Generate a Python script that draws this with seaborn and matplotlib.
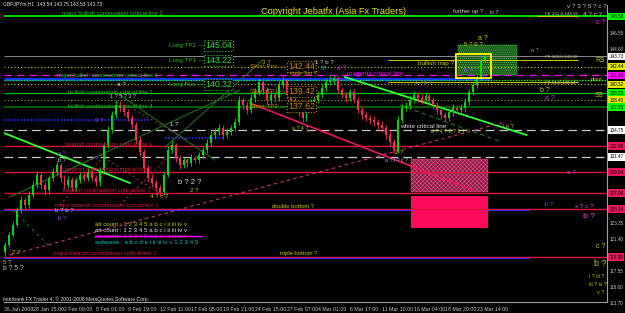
import numpy as np
import pandas as pd
import matplotlib
matplotlib.use("Agg")
import matplotlib.pyplot as plt
import seaborn as sns
from matplotlib.patches import Rectangle

# ---------------- data ----------------
FIRST_OPEN = 119.90
CLOSES = [120.75, 121.97, 123.19, 125.01, 126.23, 125.62, 126.84, 128.05, 129.27, 128.05,
          127.45, 128.91, 129.64, 130.49, 128.91, 128.05, 128.67, 127.69, 128.67, 129.27,
          128.91, 129.64, 128.91, 128.42, 129.88, 132.92, 134.75, 136.57, 137.79, 137.43,
          136.94, 136.21, 135.36, 133.53, 132.07, 130.12, 128.91, 128.30, 127.69, 127.20,
          129.27, 132.32, 132.92, 131.34, 130.49, 131.10, 130.73, 131.34, 131.10, 131.71,
          132.32, 133.17, 134.14, 134.51, 134.99, 134.14, 134.51, 134.99, 135.72, 138.40,
          137.79, 137.18, 138.64, 139.37, 140.59, 139.62, 138.40, 139.01, 138.64, 140.23,
          140.83, 139.01, 138.40, 137.43, 136.94, 136.21, 137.43, 138.03, 138.40, 139.01,
          139.86, 140.59, 140.83, 141.08, 139.62, 139.01, 138.64, 139.37, 138.40, 137.18,
          136.57, 136.21, 135.97, 135.72, 135.36, 134.99, 134.14, 133.29, 132.32, 135.97,
          137.43, 137.67, 138.40, 139.01, 138.64, 138.40, 138.89, 138.40, 137.79, 137.18,
          136.57, 136.21, 136.94, 137.43, 137.18, 137.43, 138.16, 139.37, 140.23, 141.08,
          143.27, 143.73]
HIGHS = [121.10, 122.40, 123.60, 125.40, 126.70, 126.60, 127.30, 128.50, 129.80, 129.60,
         128.40, 129.30, 130.10, 131.00, 130.80, 129.30, 129.10, 129.00, 129.00, 129.70,
         129.80, 130.10, 130.00, 129.30, 130.30, 133.30, 135.20, 137.10, 138.40, 138.30,
         137.90, 137.30, 136.60, 135.70, 133.90, 132.40, 130.50, 129.40, 128.70, 128.10,
         129.70, 132.80, 133.50, 133.20, 131.70, 131.50, 131.50, 131.80, 131.70, 132.10,
         132.70, 133.60, 134.60, 135.00, 135.50, 135.40, 135.00, 135.40, 136.20, 138.90,
         138.80, 138.20, 139.10, 139.90, 141.10, 140.90, 140.00, 139.50, 139.40, 140.70,
         141.30, 141.10, 139.40, 138.80, 137.80, 137.30, 137.90, 138.50, 138.90, 139.50,
         140.30, 141.00, 141.30, 141.40, 141.30, 140.00, 139.40, 139.80, 139.70, 138.80,
         137.60, 137.00, 136.60, 136.40, 136.10, 135.80, 135.40, 134.60, 133.70, 136.40,
         137.90, 138.20, 138.90, 139.50, 139.40, 139.10, 139.30, 139.30, 138.80, 138.20,
         137.60, 137.00, 137.40, 137.90, 137.80, 137.90, 138.60, 139.80, 140.70, 141.50,
         143.70, 143.90]
LOWS = [119.45, 120.50, 121.70, 122.90, 124.70, 125.20, 125.30, 126.50, 127.70, 127.60,
        126.90, 127.00, 128.50, 129.30, 128.40, 127.60, 127.70, 127.30, 127.30, 128.30,
        128.50, 128.60, 128.50, 127.90, 128.00, 129.60, 132.60, 134.40, 136.20, 137.00,
        136.50, 135.80, 134.90, 133.10, 131.60, 129.70, 128.40, 127.80, 127.20, 126.70,
        126.90, 129.00, 131.90, 130.90, 130.00, 130.10, 130.30, 130.40, 130.70, 130.80,
        131.30, 131.90, 132.80, 133.70, 134.10, 133.70, 133.80, 134.10, 134.60, 135.40,
        137.30, 136.70, 136.80, 138.20, 139.00, 139.10, 137.90, 138.00, 138.20, 138.30,
        139.90, 138.60, 137.90, 137.00, 136.50, 135.70, 135.90, 137.10, 137.60, 138.00,
        138.60, 139.50, 140.20, 140.40, 139.20, 138.60, 138.20, 138.30, 138.00, 136.80,
        136.10, 135.80, 135.50, 135.30, 134.90, 134.50, 133.70, 132.80, 131.90, 132.00,
        135.60, 137.10, 137.30, 138.00, 138.20, 137.90, 138.00, 137.90, 137.30, 136.70,
        136.10, 135.80, 135.90, 136.50, 136.80, 136.80, 137.00, 137.80, 139.00, 139.90,
        140.80, 143.00]

TIME_LABELS = ["26 Jan 2009", "28 Jan 15:00", "2 Feb 09:00", "5 Feb 01:00", "9 Feb 19:00",
               "12 Feb 11:00", "17 Feb 05:00", "19 Feb 21:00", "24 Feb 15:00", "27 Feb 07:00",
               "4 Mar 01:00", "6 Mar 17:00", "11 Mar 10:00", "16 Mar 04:00", "18 Mar 20:00",
               "23 Mar 14:00"]

PLAIN_TICKS = [146.55, 144.60, 123.35, 121.40, 117.55, 115.60, 113.70]

LEVEL_PRICES = [148.58, 143.73, 142.44, 141.40, 140.83, 140.32, 139.25, 138.40, 137.55,
                135.97, 133.78, 134.75, 132.80, 131.47, 129.64, 127.08, 125.14, 119.30]
FE_PRICES = [148.58, 143.32, 140.58]
FE_TEXTS = ["FE 161.8-148.58", "FE 100.0-143.32", "FE 61.8-140.58"]

BOX_PRICES = [148.58, 143.73, 142.44, 141.40, 140.32, 139.25, 138.40, 137.55, 134.75,
              132.80, 131.47, 129.64, 127.08, 125.14, 119.30]

LONG_LEVELS = [145.04, 143.22, 140.32]
LONG_NAMES = ["Long TP2", "Long TP1", "Long Pos"]
SHORT_LEVELS = [142.44, 139.42, 137.62]
SHORT_NAMES = ["Short Pos", "Short TP1", "Short TP2"]

# trendlines (bar index, price)
TRENDLINES = [
    ((0, 134.39), (254, 128.30)),
    ((687, 141.20), (1054, 134.14)),
    ((798, 137.79), (1004, 133.29)),
    ((12, 126.60), (476, 139.62)),
    ((234, 139.01), (425, 131.10)),
    ((325, 132.68), (522, 143.27)),
    ((18, 125.02), (93, 120.52)),
    ((496, 138.03), (945, 127.45)),
    ((12, 119.54), (1010, 135.72)),
    ((194, 131.71), (335, 126.23)),
    ((234, 125.63), (345, 132.32)),
    ((254, 137.55), (369, 133.53)),
    ((113, 125.63), (194, 131.10)),
    ((183, 121.86), (399, 121.86)),
]
TL_STYLE = [("#33ff33", "-", 1.3), ("#33ff33", "-", 1.3), ("#1e7a1e", (0, (4, 3)), 0.8),
            ("#1e6e1e", "-", 0.8), ("#1e6e1e", "-", 0.8), ("#1e6e1e", "-", 0.8),
            ("#1e6e1e", (0, (3, 3)), 0.8), ("#e8185a", "-", 1.2), ("#d0306a", (0, (3, 3)), 0.8),
            ("#c02858", (0, (2, 3)), 0.7), ("#c02858", (0, (2, 3)), 0.7), ("#c02858", (0, (2, 3)), 0.7),
            ("#c02858", (0, (2, 3)), 0.7), ("#ff00ff", "-", 1.0)]

# ---------------- figure ----------------
sns.set_theme(style="dark")
plt.rcParams["font.family"] = ["Liberation Sans", "DejaVu Sans"]
plt.rcParams["hatch.linewidth"] = 0.35

W, H = 625, 313
fig = plt.figure(figsize=(W / 100, H / 100), dpi=100, facecolor="black")
ax = fig.add_axes([4 / W, 11 / H, 603 / W, 297 / H])
ax.set_facecolor("black")
XMAX = 1216
ax.set_xlim(0, XMAX)
ax.set_ylim(113.83, 149.96)
for s in ["left", "top"]:
    ax.spines[s].set_visible(False)
for s in ["right", "bottom"]:
    ax.spines[s].set_color("#a0a0a0")
    ax.spines[s].set_linewidth(0.8)
ax.grid(False)

def T(px, py, s, color, size, **kw):
    fig.text(px / W, 1 - py / H, s, color=color, fontsize=size, va="center", ha="left", **kw)

# candles
n = len(CLOSES)
opens = [FIRST_OPEN] + CLOSES[:-1]
df = pd.DataFrame({"bar": 2 + 8 * np.arange(n), "open": opens, "close": CLOSES,
                   "high": HIGHS, "low": LOWS})
up = df["close"] >= df["open"]
cols = np.where(up, "#00e000", "#ff2a55")

# horizontal levels
lvl_style = [("#00ff00", "-", 1.2, 0, XMAX), ("#8a8a8a", "-", 0.7, 0, XMAX),
             ("#c8c800", (0, (1, 2)), 0.8, 0, XMAX), ("#ff00ff", (0, (6, 4)), 0.9, 0, XMAX),
             ("#00ff00", (0, (1, 1)), 1.0, 0, XMAX), ("#c8c800", (0, (1, 2)), 0.8, 0, XMAX),
             ("#00b000", "-", 1.0, 0, XMAX), ("#a0a000", (0, (1, 2)), 0.8, 0, XMAX),
             ("#006400", "-", 1.3, 0, XMAX), ("#2030ff", (0, (1, 1)), 1.2, 0, 294),
             ("#2030ff", (0, (1, 1)), 1.2, 325, 446), ("#c8c8c8", (0, (7, 4)), 0.9, 0, XMAX),
             ("#dc143c", "-", 1.0, 0, XMAX), ("#c8c8c8", (0, (7, 4)), 0.9, 0, XMAX),
             ("#dc143c", "-", 1.0, 0, XMAX), ("#dc143c", "-", 1.0, 0, XMAX),
             ("#dc143c", "-", 1.0, 0, XMAX), ("#dc143c", "-", 1.0, 0, XMAX)]
ax.hlines([140.93], 0, 980, colors="#1030ff", lw=2.2, zorder=1)
ax.hlines([125.00, 119.16], 0, 1060, colors="#1030ff", lw=1.6, zorder=1)
for p, (c, ls, lw, x0, x1) in zip(LEVEL_PRICES, lvl_style):
    ax.hlines(p, x0, x1, colors=c, linestyles=ls, lw=lw, zorder=2)
for p in FE_PRICES:
    ax.hlines(p, 1075, 1157, colors="#c8c800", lw=0.8, zorder=2)
ax.hlines(143.32, 774, 1075, colors="#c8c800", lw=0.7, zorder=2)
ax.hlines(140.58, 774, 1075, colors="#c8c800", lw=0.7, zorder=2)

# rectangles
ax.add_patch(Rectangle((820, 127.21), 156, 4.03, facecolor="#7a2048", edgecolor="#ff4a84",
                       hatch="xxxxxxxx", lw=0.3, zorder=1))
ax.add_patch(Rectangle((820, 122.83), 156, 3.89, facecolor="#ff0a5a", edgecolor="none", zorder=1))
ax.add_patch(Rectangle((915, 141.44), 119, 3.65, facecolor="#1b5a1b", edgecolor="#4ec04e",
                       hatch="........", lw=0.3, zorder=1))
ax.add_patch(Rectangle((911, 141.08), 71, 2.91, facecolor="none", edgecolor="#ffff00", lw=1.3, zorder=5))

# trendlines via seaborn
for (a, b), (c, ls, lw) in zip(TRENDLINES, TL_STYLE):
    sns.lineplot(x=[a[0], b[0]], y=[a[1], b[1]], ax=ax, color=c, lw=lw, linestyle=ls,
                 sort=False, estimator=None, zorder=3)

ax.vlines(df["bar"], df["low"], df["high"], colors=cols, lw=0.6, zorder=4)
body_h = np.maximum((df["close"] - df["open"]).abs(), 0.08)
ax.bar(df["bar"], body_h, bottom=np.minimum(df["open"], df["close"]), width=4, color=cols,
       lw=0, zorder=4)

# x ticks
tpos = [max(0, 64 * k - 6) for k in range(len(TIME_LABELS))]
ax.set_xticks(tpos)
ax.set_xticklabels(TIME_LABELS, fontsize=3.8, color="#c8c8c8", ha="left")
ax.tick_params(axis="x", length=2, color="#a0a0a0", pad=1.5)
ax.set_yticks([])

# right axis labels
yt = ax.get_yaxis_transform()
for p in PLAIN_TICKS:
    ax.text(1.004, p, f"{p:.2f}", transform=yt, color="#c8c8c8", fontsize=3.3, va="center",
            ha="left", clip_on=False)
box_cols = ["#00ff00", "#ffffff", "#e6e600", "#ff00ff", "#e6e600", "#00ff00", "#e6e600",
            "#00ff00", "#ffffff", "#e8185a", "#ffffff", "#e8185a", "#e8185a", "#e8185a", "#e8185a"]
for p, c in zip(BOX_PRICES, box_cols):
    ax.text(1.004, p, f"{p:.2f}", transform=yt, color="black", fontsize=3.3, va="center",
            ha="left", clip_on=False,
            bbox=dict(boxstyle="square,pad=0.25", fc=c, ec="none"))

# long / short labels with boxes
def price_py(p):
    return 33 + (146.55 - p) * 8.22

for p, name in zip(LONG_LEVELS, LONG_NAMES):
    py = price_py(p)
    T(169, py, name + " \u2014", "#20c020", 4.5)
    T(205, py, f"{p:.2f}", "#30e030", 6.3,
      bbox=dict(boxstyle="square,pad=0.1", fc="black", ec="#30c030", ls=":", lw=0.8))
for p, name in zip(SHORT_LEVELS, SHORT_NAMES):
    py = price_py(p)
    T(250, py, name + " \u2014", "#d08a00", 4.5)
    T(288, py, f"{p:.2f}", "#d08a00", 6.3,
      bbox=dict(boxstyle="square,pad=0.1", fc="black", ec="#c08000", ls=":", lw=0.8))

# titles and line names
T(3, 4, "GBPJPYm,H1  143.54 143.75 143.53 143.73", "#e0e0e0", 3.6)
T(261, 12, "Copyright Jebatfx (Asia Fx Traders)", "#e6e600", 6.6)
T(62, 13, "major bullish continuation critical line 2", "#20c020", 4.2)
T(57, 76, "major bullish continuation critical line 1", "#20c020", 4.2)
T(68, 92, "bullish continuation critical line 2", "#20c020", 4.2)
T(68, 106, "bullish continuation critical line 4", "#20c020", 4.2)
T(65, 145, "bearish continuation critical line 1", "#dc143c", 4.2)
T(65, 170, "bearish continuation critical line 2", "#dc143c", 4.2)
T(63, 190, "bearish continuation critical line 3", "#dc143c", 4.2)
T(55, 206, "major bearish continuation critical line 1", "#dc143c", 4.2)
T(272, 206, "double bottom ?", "#c8c800", 4.2)
T(53, 254, "major bearish continuation critical line 1", "#dc143c", 4.2)
T(280, 254, "triple bottom ?", "#c8c800", 4.2)
T(290, 73, "triple Top ?", "#c8a000", 4.0)
T(347, 74, "magenta critical line", "#ff00ff", 4.6)
T(418, 63, "bullish trap ?", "#c8c800", 4.6)
T(400, 126, "white critical line", "#e0e0e0", 4.6)
T(453, 12, "further up ?", "#c8c8c8", 4.2)
T(490, 12, "iii ?", "#c8c8c8", 4.0)
for (px, py), s in zip([(545, 14), (545, 57), (545, 83)], FE_TEXTS):
    T(px, py, s, "#c8c8a0", 3.2)
T(595, 61, "R3", "#c8c800", 5)
T(591, 79, "pivot", "#c8c800", 4)
T(595, 95, "S3", "#c8c800", 5)

# wave count annotations
notes = [
    (567, 6, "v ? 3 ? 5 ? c ?", "#c8c8c8", 4.6), (583, 14, "4 ? c ?", "#c8c8a0", 4.6),
    (596, 23, "c ?", "#ff00ff", 5), (478, 38, "a ?", "#c8c800", 5),
    (464, 45, "5 ? 6 ?", "#c8c800", 4.4), (531, 51, "iv ?", "#a0a0a0", 3.4),
    (464, 71, "b ?", "#a050ff", 4.6), (315, 62, "1 ? b ?", "#d0d0d0", 4.4),
    (321, 69, "5?", "#00c8c8", 4.4), (337, 69, "a ?", "#ff00ff", 4.8),
    (262, 62, "3 ?", "#c8a000", 4.4), (415, 82, "1 ? a ?", "#8080c0", 4),
    (540, 90, "b ?", "#c8c800", 5), (545, 98, "a ?", "#a040ff", 5),
    (431, 132, "a ? 4 ? 2 ? 1 ?", "#c8c800", 3.8), (503, 126, "i ii ?", "#c8c800", 4.4),
    (395, 152, "2 ?", "#c8c800", 4.4), (385, 160, "a ? i ? ii ?", "#a0a0ff", 3.8),
    (292, 128, "a ? 4 ?", "#c8c800", 3.8), (567, 172, "a ?", "#a040ff", 4.6),
    (545, 205, "ii ?", "#a040ff", 4.6), (575, 207, "x ? c ?", "#ff40ff", 4.6),
    (583, 216, "b ?", "#ff40ff", 6), (596, 246, "c ?", "#c8c800", 5),
    (594, 263, "b ?", "#c8c800", 6.5), (589, 276, "i ? iii ?", "#c8c800", 3.8),
    (589, 284, "iii ? iv ?", "#c8c800", 3.8), (597, 293, "v ?", "#c8c800", 4),
    (117, 85, "a ?", "#e0e0e0", 4.6), (110, 97, "1 ? 5 ? 3 ?", "#c0c0c0", 4.0),
    (95, 121, "3 ?", "#a040ff", 4.4), (58, 154, "a ?", "#a040ff", 4),
    (58, 160, "b ?", "#d0d0d0", 4), (170, 125, "1 ?", "#e0e0e0", 4.4),
    (90, 158, "1 ?", "#a040ff", 4.2), (178, 182, "b ? 2 ?", "#e0e0e0", 5.5),
    (190, 190, "2 ?", "#c8c800", 4.4), (150, 196, "4 ? c ?", "#c8c800", 4.4),
    (55, 211, "b ? b ?", "#c0c0c0", 4.4), (58, 219, "b ?", "#a040ff", 4.4),
    (12, 252, "2 ?", "#c8c800", 4.4), (3, 262, "5 ?", "#c8c800", 4.4),
    (3, 268, "b ? 5 ?", "#c0c0c0", 4.8),
]
for px, py, s, c, fs in notes:
    T(px, py, s, c, fs)

# legend block
T(95, 224, "alt count : 1 2 3 4 5 a b c i ii iii iv v", "#c8c800", 4.4)
T(95, 230, "alt count : 1 2 3 4 5 a b c i ii iii iv v", "#e0e0e0", 4.4)
T(95, 236, "alt count : 1 2 3 4 5 a b c i ii iii iv v", "#ff00ff", 4.4)
T(95, 242, "subwave : a b c d e i ii iii iv v 1 2 3 4 5", "#00c8c8", 4.4)

T(3, 299, "Interbank FX Trader 4, \u00a9 2001-2008 MetaQuotes Software Corp.", "#e0e0e0", 3.6)

fig.savefig("out.png", dpi=100, facecolor="black")
